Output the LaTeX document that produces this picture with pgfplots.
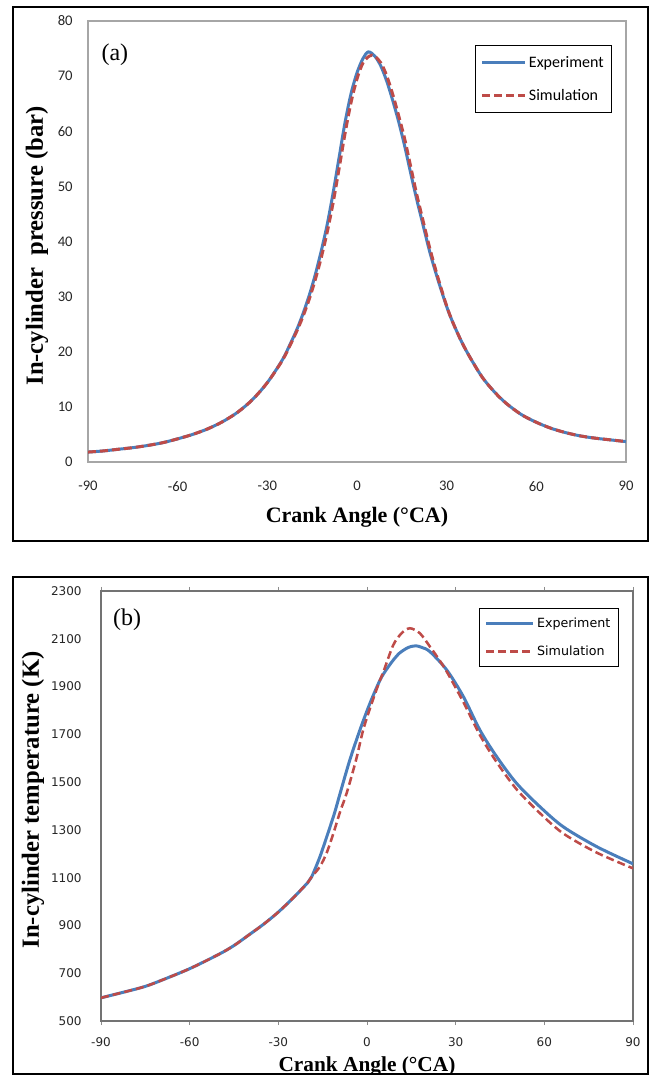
\documentclass[border=0pt]{standalone}
\usepackage{pgfplots}
\pgfplotsset{compat=1.18}
\usepackage{fontspec}
\setmainfont{Liberation Serif}
\newfontfamily\calfont{Carlito}
\newfontfamily\dvfont{DejaVu Sans}
\definecolor{expblue}{RGB}{74,126,187}
\definecolor{simred}{RGB}{190,75,72}

\pgfplotstableread{
x y
-90 1.8
-85 2.0
-80 2.3
-75 2.6
-70 3.0
-65 3.5
-60 4.2
-55 5.0
-50 6.0
-45 7.3
-40 9.0
-35 11.3
-30 14.4
-25 18.5
-22 21.8
-20 24.2
-18 27.0
-16 30.2
-14 33.9
-12 38.2
-10 43.0
-8 48.8
-6 55.2
-4 61.6
-2 66.8
0 70.6
2 73.2
3.8 74.4
6 73.6
8 71.8
10 69.0
12 65.5
14 61.6
16 57.2
18 52.3
20 47.6
22 43.2
24.4 38.0
27 33.2
30 28.2
32 25.4
35 21.8
38 18.8
42 15.3
46 12.7
50 10.6
55 8.6
60 7.2
65 6.1
70 5.3
75 4.7
80 4.3
85 4.0
90 3.7
}\pexp

\pgfplotstableread{
x y
-90 1.8
-85 2.0
-80 2.3
-75 2.6
-70 3.0
-65 3.5
-60 4.2
-55 5.0
-50 6.0
-45 7.3
-40 9.0
-35 11.3
-30 14.4
-25 18.4
-22 21.6
-20 23.9
-18 26.5
-16 29.5
-14 33.0
-12 37.0
-10 41.6
-8 47.0
-6 53.2
-4 59.6
-2 65.2
0 69.5
2 72.4
4 73.6
5 73.8
6 73.6
8 72.4
10 70.0
12 66.6
14 62.7
16 58.5
18 53.5
20 48.5
22 44.0
24.4 38.7
27 33.6
30 28.3
32 25.4
35 21.8
38 18.8
42 15.3
46 12.7
50 10.6
55 8.6
60 7.2
65 6.1
70 5.3
75 4.7
80 4.3
85 4.0
90 3.7
}\psim

\pgfplotstableread{
x y
-90 597
-80 628
-75 645
-70 668
-60 719
-50 780
-45 816
-40 860
-35 905
-30 956
-25 1015
-20 1080
-18.7 1104
-16 1185
-13.6 1272
-11 1370
-9.1 1453
-5.8 1593
-2.4 1718
1.0 1830
4.4 1927
6.5 1970
8.9 2011
11 2040
13.4 2060
15 2068
16.8 2070
18.5 2064
21.3 2046
27.0 1969
32.6 1858
38.2 1718
43.9 1606
50.6 1495
58.5 1397
66.4 1313
77.7 1230
90 1158
}\texp

\pgfplotstableread{
x y
-90 597
-80 628
-75 645
-70 668
-60 719
-50 780
-45 816
-40 860
-35 905
-30 956
-25 1015
-20 1080
-18.7 1104
-16 1145
-13.6 1205
-11 1300
-9 1380
-6.9 1453
-3.7 1593
-1.3 1718
1.6 1830
4.4 1927
5.5 1960
8.9 2074
11.7 2123
14.5 2144
17.9 2123
21.3 2067
24 2020
27 1962
32.6 1835
38.2 1697
43.9 1583
50.6 1470
58.5 1370
66.4 1285
77.7 1205
90 1139
}\tsim

\begin{document}
\begin{tikzpicture}
\path[use as bounding box] (0pt,0pt) rectangle (488.25pt,806.25pt);
\draw[line width=1.5pt] (9.75pt,400.5pt) rectangle (486pt,801pt);
\draw[line width=1.5pt] (9.75pt,0.9pt) rectangle (486pt,373.5pt);

\begin{axis}[
  at={(66pt,459.75pt)}, anchor=south west,
  scale only axis, width=403.5pt, height=330.75pt,
  xmin=-90, xmax=90, ymin=0, ymax=80,
  xtick={-90,-60,-30,0,30,60,90},
  xticklabels={-90,-60,-30,0,30,60,90},
  ytick={0,10,20,30,40,50,60,70,80},
  yticklabels={0,10,20,30,40,50,60,70,80},
  major tick length=0pt,
  axis line style={draw=black!35, line width=0.8pt},
  tick label style={font=\calfont\fontsize{11}{13}\selectfont, text=black!85},
  x tick label style={yshift=-11pt},
  y tick label style={xshift=-8pt},
  xlabel={Crank Angle (°CA)},
  ylabel={In-cylinder\ \ pressure (bar)},
  xlabel style={font=\bfseries\fontsize{16.5}{18}\selectfont, at={(axis description cs:0.5,-0.1247)}, anchor=center},
  ylabel style={font=\bfseries\fontsize{18.5}{20}\selectfont, at={(axis description cs:-0.0948,0.49)}, anchor=center},
  legend style={at={(0.719,0.9456)}, anchor=north west, draw=black, line width=0.75pt,
    font=\calfont\fontsize{12}{14}\selectfont, inner xsep=4pt, inner ysep=6pt, row sep=11pt},
  legend cell align=left,
  legend image code/.code={\draw[#1] (0pt,0pt) -- (32pt,0pt);},
]
\addplot[color=expblue, line width=2.25pt, smooth] table[x=x,y=y] {\pexp};
\addlegendentry{Experiment}
\addplot[color=simred, line width=2.25pt, dash pattern=on 6pt off 3pt, smooth] table[x=x,y=y] {\psim};
\addlegendentry{Simulation}
\node[font=\fontsize{18}{20}\selectfont] at (axis description cs:0.05,0.923) {(a)};
\end{axis}

\begin{axis}[
  at={(75.75pt,40.5pt)}, anchor=south west,
  scale only axis, width=399pt, height=322.5pt,
  xmin=-90, xmax=90, ymin=500, ymax=2300,
  xtick={-90,-60,-30,0,30,60,90},
  xticklabels={-90,-60,-30,0,30,60,90},
  ytick={500,700,900,1100,1300,1500,1700,1900,2100,2300},
  yticklabels={500,700,900,1100,1300,1500,1700,1900,2100,2300},
  tick align=outside,
  xtick style={draw=black!45, line width=0.75pt},
  ytick style={draw=none},
  major tick length=3pt,
  axis line style={draw=black!55, line width=0.8pt},
  tick label style={font=\dvfont\fontsize{9}{11}\selectfont, text=black!85},
  x tick label style={yshift=-6pt},
  y tick label style={xshift=-8pt},
  xlabel={Crank Angle (°CA)},
  ylabel={In-cylinder temperature (K)},
  xlabel style={font=\bfseries\fontsize{16}{18}\selectfont, at={(axis description cs:0.5,-0.1047)}, anchor=center},
  ylabel style={font=\bfseries\fontsize{18.5}{20}\selectfont, at={(axis description cs:-0.128,0.514)}, anchor=center},
  legend style={at={(0.7105,0.9605)}, anchor=north west, draw=black, line width=0.75pt,
    font=\dvfont\fontsize{9.5}{11}\selectfont, inner xsep=4pt, inner ysep=5pt, row sep=8pt},
  legend cell align=left,
  legend image code/.code={\draw[#1] (0pt,0pt) -- (35pt,0pt);},
]
\addplot[color=expblue, line width=2.25pt, smooth] table[x=x,y=y] {\texp};
\addlegendentry{Experiment}
\addplot[color=simred, line width=1.9pt, dash pattern=on 6pt off 3pt, smooth] table[x=x,y=y] {\tsim};
\addlegendentry{Simulation}
\node[font=\fontsize{18}{20}\selectfont] at (axis description cs:0.049,0.9326) {(b)};
\end{axis}
\end{tikzpicture}
\end{document}
